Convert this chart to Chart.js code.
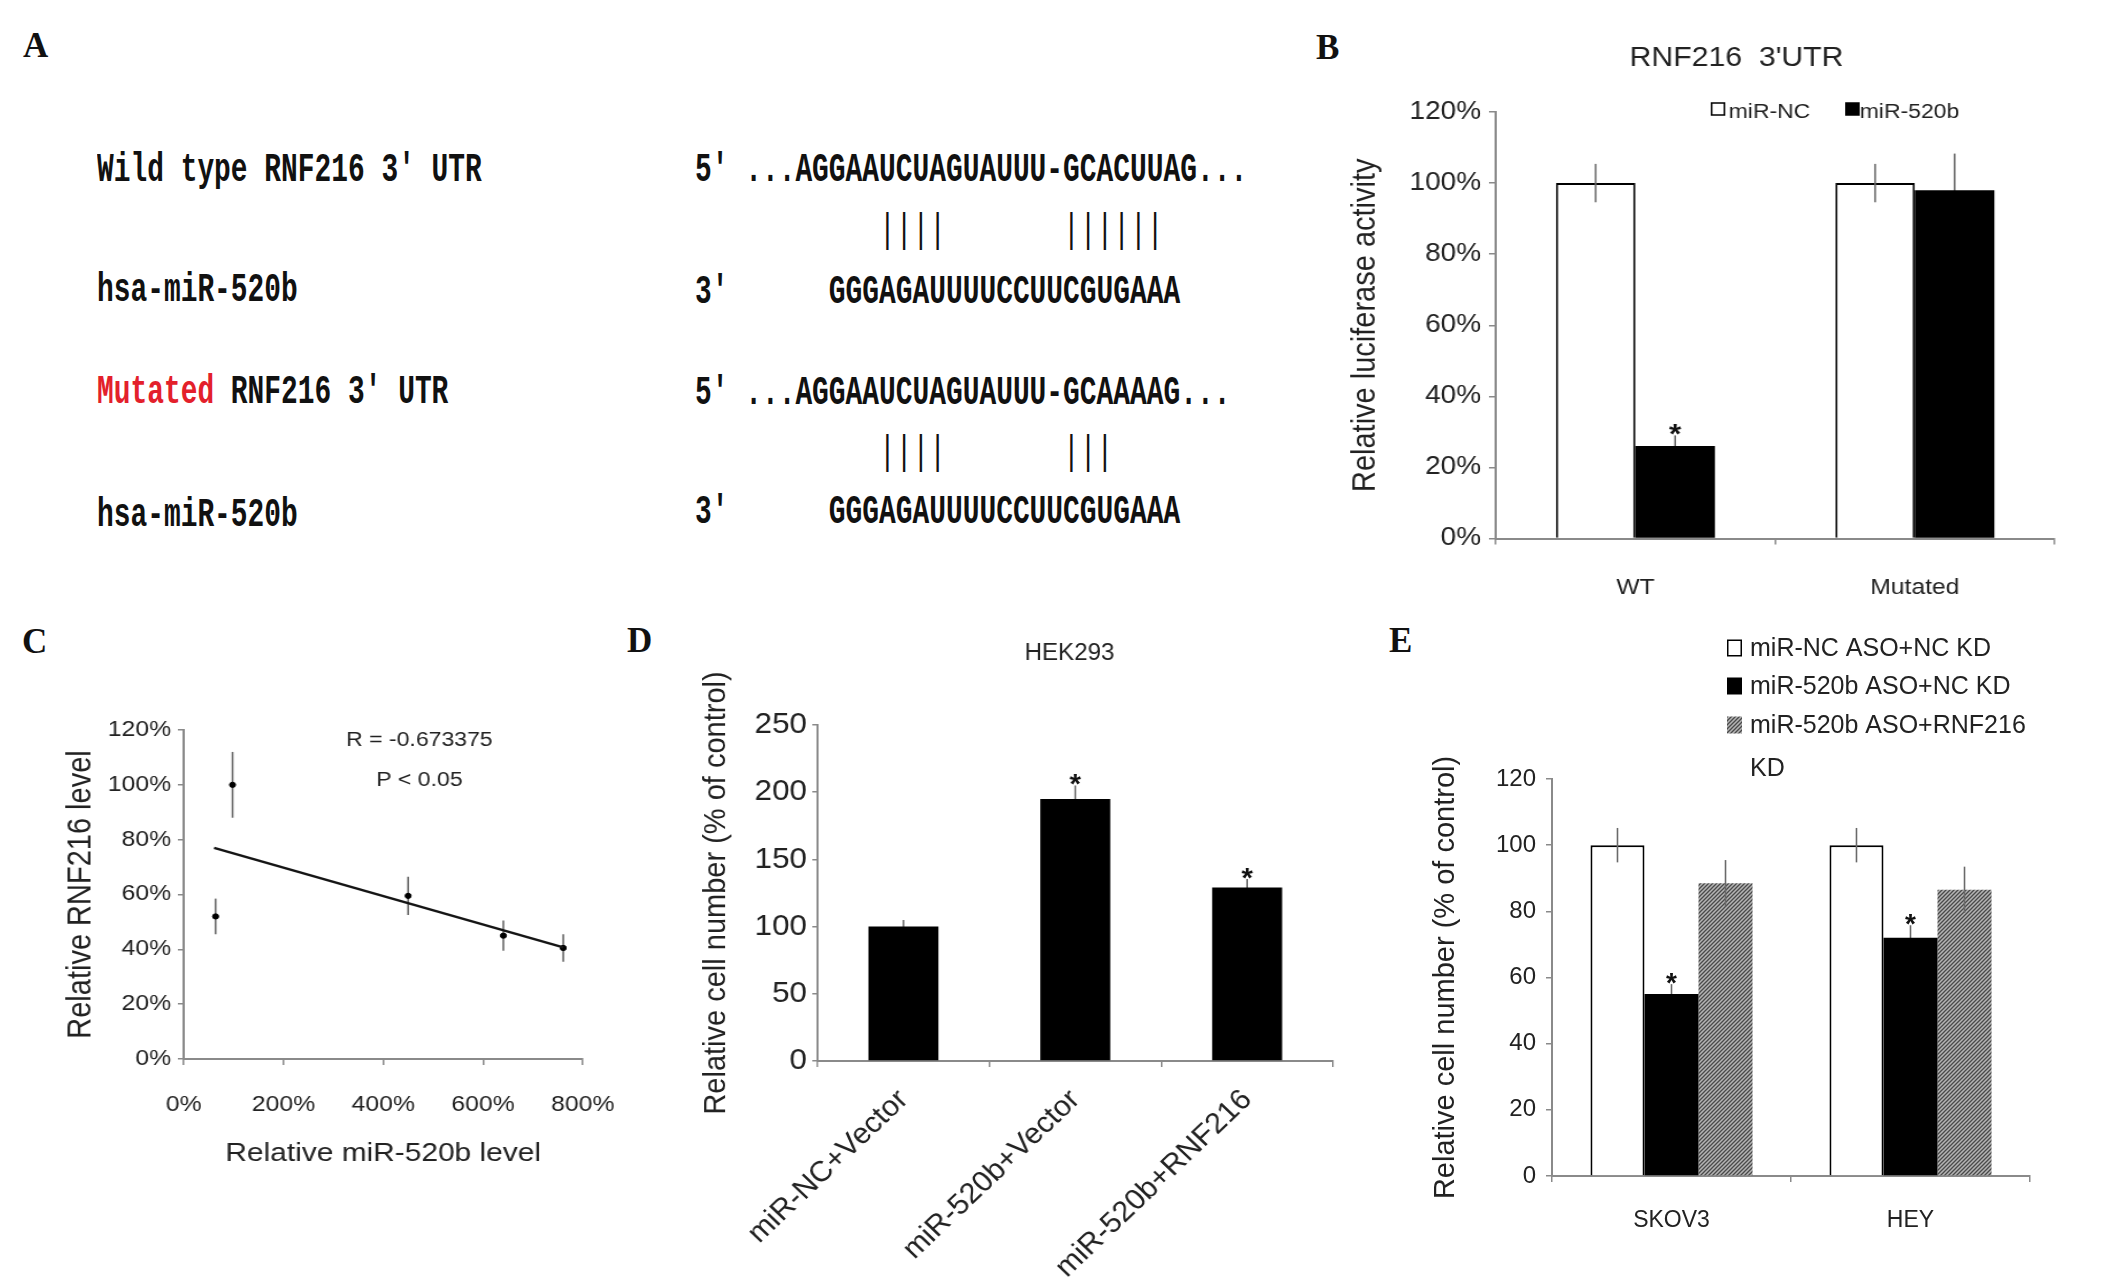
<!DOCTYPE html>
<html>
<head>
<meta charset="utf-8">
<script src="https://cdn.jsdelivr.net/npm/chart.js@4.4.1/dist/chart.umd.min.js"></script>
<style>
  html, body { margin: 0; padding: 0; background: #fff; }
  body { width: 2126px; height: 1281px; position: relative; overflow: hidden; font-family: "Liberation Sans", Arial, sans-serif; }
  .lbl { position: absolute; font: bold 35px "Liberation Serif", "Times New Roman", serif; line-height: 35px; color: #111; }
  .seq { position: absolute; font: bold 41px "Liberation Mono", "Courier New", monospace; line-height: 41px; white-space: pre; transform-origin: 0 0; transform: scaleX(0.68); color: #111; }
  .seq.thin { font-weight: normal; }
  .red { color: #e3202b; }
  .pane { position: absolute; transform-origin: 0 0; }
</style>
</head>
<body>

<!-- panel letters -->
<div class="lbl" style="left:23px;top:28px">A</div>
<div class="lbl" style="left:1316px;top:30px">B</div>
<div class="lbl" style="left:22px;top:624px">C</div>
<div class="lbl" style="left:627px;top:623px">D</div>
<div class="lbl" style="left:1389px;top:623px">E</div>

<!-- panel A: sequence alignment -->
<div class="seq" style="left:97px;top:150px">Wild type RNF216 3' UTR</div>
<div class="seq" style="left:97px;top:270px">hsa-miR-520b</div>
<div class="seq" style="left:97px;top:372px"><span class="red">Mutated</span> RNF216 3' UTR</div>
<div class="seq" style="left:97px;top:495px">hsa-miR-520b</div>

<div class="seq" style="left:695px;top:150px">5' ...AGGAAUCUAGUAUUU-GCACUUAG...</div>
<div class="seq thin" style="left:695px;top:211px">           ||||       ||||||</div>
<div class="seq" style="left:695px;top:272px">3'      GGGAGAUUUUCCUUCGUGAAA</div>
<div class="seq" style="left:695px;top:373px">5' ...AGGAAUCUAGUAUUU-GCAAAAG...</div>
<div class="seq thin" style="left:695px;top:433px">           ||||       |||</div>
<div class="seq" style="left:695px;top:492px">3'      GGGAGAUUUUCCUUCGUGAAA</div>

<script>
// ---- data ----
// B: luciferase activity (%)
const bCategories = ['WT', 'Mutated'];
const bNC = [100, 100];
const bNCErr = [5.4, 5.4];
const b520 = [26, 98];
const b520Err = [3, 10.3];
const b520Stars = [true, false];

// C: correlation (% miR-520b vs % RNF216)
const cMiR = [64, 98, 450, 641, 761];
const cRNF = [52, 100, 59.5, 45, 40.5];
const cErr = [6.5, 12, 7, 5.5, 5];
const cFitX = [61, 761];
const cFitY = [77, 40.7];
const cStats = ['R = -0.673375', 'P < 0.05'];

// D: HEK293 cell number (% of control)
const dCategories = ['miR-NC+Vector', 'miR-520b+Vector', 'miR-520b+RNF216'];
const dValues = [100, 195, 129];
const dErr = [5, 10, 6.5];
const dStars = [false, true, true];

// E: SKOV3 / HEY cell number (% of control)
const eCategories = ['SKOV3', 'HEY'];
const eNC = [100, 100];
const eNCErr = [5.2, 5.2];
const e520 = [55, 72];
const e520Err = [3, 3.8];
const e520Stars = [true, true];
const eRNF = [88.5, 86.5];
const eRNFErr = [7, 7];

// ---- shared look ----
const AXIS = '#8a8a8a';
const INK = '#222';
Chart.defaults.font.family = '"Liberation Sans", Arial, Helvetica, sans-serif';
Chart.defaults.color = INK;
Chart.defaults.animation = false;
Chart.defaults.plugins.legend.display = false;
Chart.defaults.plugins.tooltip.enabled = false;

function makePane(left, top, cw, h, k) {
  const div = document.createElement('div');
  div.className = 'pane';
  div.style.left = left + 'px';
  div.style.top = top + 'px';
  div.style.width = cw + 'px';
  div.style.height = h + 'px';
  div.style.transform = 'scaleX(' + k + ')';
  const c = document.createElement('canvas');
  c.width = cw; c.height = h;
  c.style.width = cw + 'px'; c.style.height = h + 'px';
  div.appendChild(c);
  document.body.appendChild(div);
  return c;
}

function yScale(o) {
  return {
    type: 'linear', min: o.min, max: o.max,
    afterFit: s => { s.width = o.width; },
    border: { color: AXIS, width: 2 },
    grid: { drawOnChartArea: false, tickLength: o.tick, color: AXIS, tickColor: AXIS, lineWidth: 1.5 },
    ticks: { stepSize: o.step, padding: o.pad, font: { size: o.size }, color: INK,
             callback: o.pct ? v => v + '%' : v => v },
    title: { display: true, text: o.title, font: { size: o.tsize }, color: INK, padding: { top: o.tpad, bottom: 0 } }
  };
}

function xCat(o) {
  return {
    type: 'category',
    afterFit: s => { s.height = o.height; },
    border: { color: AXIS, width: 2 },
    grid: { drawOnChartArea: false, tickLength: o.tick, color: AXIS, tickColor: AXIS, lineWidth: 1.5 },
    ticks: { padding: o.pad, font: { size: o.size }, color: INK, autoSkip: false,
             maxRotation: o.rot || 0, minRotation: o.rot || 0 }
  };
}

const val = d => (d !== null && typeof d === 'object') ? d.y : d;

function drawErrors(chart, behind) {
  const ctx = chart.ctx, ys = chart.scales.y;
  chart.data.datasets.forEach((ds, i) => {
    if (!ds.errors || !!ds.errBehind !== behind) return;
    const meta = chart.getDatasetMeta(i);
    ctx.save();
    ctx.strokeStyle = '#6a6a6a';
    ctx.lineWidth = 1.6;
    meta.data.forEach((el, j) => {
      const v = val(ds.data[j]), e = ds.errors[j];
      ctx.beginPath();
      ctx.moveTo(el.x, ys.getPixelForValue(v - e));
      ctx.lineTo(el.x, ys.getPixelForValue(v + e));
      ctx.stroke();
    });
    ctx.restore();
  });
}

function drawStars(chart) {
  const ctx = chart.ctx, ys = chart.scales.y;
  chart.data.datasets.forEach((ds, i) => {
    if (!ds.stars) return;
    const meta = chart.getDatasetMeta(i);
    meta.data.forEach((el, j) => {
      if (!ds.stars[j]) return;
      const top = ys.getPixelForValue(val(ds.data[j]) + (ds.errors ? ds.errors[j] : 0));
      ctx.save();
      ctx.fillStyle = '#111';
      ctx.font = 'bold 28px "Liberation Sans", Arial, sans-serif';
      ctx.textAlign = 'center';
      ctx.textBaseline = 'alphabetic';
      ctx.fillText('*', el.x, top + 8);
      ctx.restore();
    });
  });
}

function drawLegend(chart, lg) {
  const ctx = chart.ctx;
  ctx.save();
  ctx.font = lg.size + 'px "Liberation Sans", Arial, sans-serif';
  ctx.textBaseline = 'middle';
  ctx.textAlign = 'left';
  let n = 0;
  chart.data.datasets.forEach(ds => {
    if (!ds.label) return;
    const bx = lg.xs ? lg.xs[n] : lg.x;
    const cy = lg.ys ? lg.ys[n] : lg.y;
    const tx = lg.txs ? lg.txs[n] : lg.tx;
    n++;
    ctx.fillStyle = ds.backgroundColor;
    ctx.fillRect(bx, cy - lg.bh / 2 - lg.lift, lg.bw, lg.bh);
    if (ds.borderWidth) {
      ctx.strokeStyle = ds.borderColor;
      ctx.lineWidth = 1.5;
      ctx.strokeRect(bx + 0.75, cy - lg.bh / 2 - lg.lift + 0.75, lg.bw - 1.5, lg.bh - 1.5);
    }
    ctx.fillStyle = INK;
    const text = ds.label;
    if (lg.maxWidth && ctx.measureText(text).width > lg.maxWidth) {
      const cut = text.lastIndexOf(' ');
      ctx.fillText(text.slice(0, cut), tx, cy);
      ctx.fillText(text.slice(cut + 1), tx, cy + lg.wrapGap);
    } else {
      ctx.fillText(text, tx, cy);
    }
  });
  ctx.restore();
}

function drawNotes(chart, notes) {
  const ctx = chart.ctx;
  notes.forEach(nt => {
    ctx.save();
    ctx.font = nt.size + 'px "Liberation Sans", Arial, sans-serif';
    ctx.fillStyle = INK;
    ctx.textAlign = 'center';
    ctx.textBaseline = 'middle';
    ctx.fillText(nt.text, nt.x, nt.y);
    ctx.restore();
  });
}

const decor = {
  id: 'decor',
  beforeDatasetsDraw(chart) { drawErrors(chart, true); },
  afterDatasetsDraw(chart) { drawErrors(chart, false); drawStars(chart); },
  afterDraw(chart, args, opts) {
    if (opts.notes) drawNotes(chart, opts.notes);
    if (opts.legend) drawLegend(chart, opts.legend);
  }
};
Chart.register(decor);

// ---- panel B ----
(function () {
  const cv = makePane(1340, 30, 679, 590, 1.12);
  new Chart(cv, {
    type: 'bar',
    data: {
      labels: bCategories,
      datasets: [
        { label: 'miR-NC', data: bNC, errors: bNCErr, errBehind: false,
          backgroundColor: '#ffffff', borderColor: '#000', borderWidth: 2 },
        { label: 'miR-520b', data: b520, errors: b520Err, errBehind: true, stars: b520Stars,
          backgroundColor: '#000000', borderColor: '#000', borderWidth: 0 }
      ]
    },
    options: {
      responsive: false,
      layout: { padding: { left: 0, right: 41, top: 82, bottom: 0 } },
      datasets: { bar: { categoryPercentage: 0.569, barPercentage: 1 } },
      scales: {
        x: xCat({ height: 81.5, tick: 6, pad: 30, size: 22 }),
        y: yScale({ min: 0, max: 120, step: 20, pct: true, width: 139, tick: 6, pad: 7, size: 25,
                    title: 'Relative luciferase activity', tsize: 29, tpad: 6 })
      },
      plugins: {
        decor: {
          notes: [{ text: "RNF216  3'UTR", x: 354, y: 29, size: 27 }],
          legend: { xs: [331, 451], txs: [347, 464], y: 82, lift: 3, bw: 13, bh: 13.5, size: 20.5 }
        }
      }
    }
  });
})();

// ---- panel C ----
(function () {
  const cv = makePane(10, 680, 557, 520, 1.15);
  const pts = cMiR.map((x, i) => ({ x: x, y: cRNF[i] }));
  const fit = cFitX.map((x, i) => ({ x: x, y: cFitY[i] }));
  new Chart(cv, {
    type: 'scatter',
    data: {
      datasets: [
        { label: '', data: fit, showLine: true, pointRadius: 0, borderColor: '#151515', borderWidth: 2.5 },
        { label: '', data: pts, errors: cErr, errBehind: true, pointRadius: 2.6,
          pointBackgroundColor: '#000', pointBorderColor: '#000', borderColor: '#000' }
      ]
    },
    options: {
      responsive: false,
      layout: { padding: { left: 0, right: 59, top: 50, bottom: 0 } },
      scales: {
        x: {
          type: 'linear', min: 0, max: 800,
          afterFit: s => { s.height = 141; },
          border: { color: AXIS, width: 2 },
          grid: { drawOnChartArea: false, tickLength: 6, color: AXIS, tickColor: AXIS, lineWidth: 1.5 },
          ticks: { stepSize: 200, padding: 27, font: { size: 21.5 }, color: INK, callback: v => v + '%' },
          title: { display: true, text: 'Relative miR-520b level', font: { size: 26 }, color: INK,
                   padding: { top: 0, bottom: 31 } }
        },
        y: yScale({ min: 0, max: 120, step: 20, pct: true, width: 151, tick: 5, pad: 6, size: 21.5,
                    title: 'Relative RNF216 level', tsize: 29, tpad: 45 })
      },
      plugins: {
        decor: {
          notes: [
            { text: cStats[0], x: 356, y: 60, size: 20 },
            { text: cStats[1], x: 356, y: 100, size: 20 }
          ]
        }
      }
    }
  });
})();

// ---- panel D ----
(function () {
  const cv = makePane(660, 620, 667, 661, 1.05);
  new Chart(cv, {
    type: 'bar',
    data: {
      labels: dCategories,
      datasets: [
        { label: '', data: dValues, errors: dErr, errBehind: true, stars: dStars,
          backgroundColor: '#000', borderWidth: 0 }
      ]
    },
    options: {
      responsive: false,
      layout: { padding: { left: 0, right: 26, top: 105, bottom: 0 } },
      datasets: { bar: { categoryPercentage: 0.407, barPercentage: 1 } },
      scales: {
        x: xCat({ height: 220, tick: 6, pad: 16, size: 29, rot: 45 }),
        y: yScale({ min: 0, max: 250, step: 50, pct: false, width: 150, tick: 5, pad: 5, size: 30,
                    title: 'Relative cell number (% of control)', tsize: 29, tpad: 37 })
      },
      plugins: {
        decor: { notes: [{ text: 'HEK293', x: 390, y: 34, size: 23 }] }
      }
    }
  });
})();

// ---- panel E ----
(function () {
  const cv = makePane(1380, 620, 746, 661, 1.0);
  const tile = document.createElement('canvas');
  tile.width = 4; tile.height = 4;
  const g = tile.getContext('2d');
  g.fillStyle = '#b4b4b4';
  g.fillRect(0, 0, 4, 4);
  g.strokeStyle = '#4a4a4a';
  g.lineWidth = 1.3;
  g.beginPath();
  g.moveTo(0, 4); g.lineTo(4, 0);
  g.moveTo(-2, 2); g.lineTo(2, -2);
  g.moveTo(2, 6); g.lineTo(6, 2);
  g.stroke();
  const hatch = cv.getContext('2d').createPattern(tile, 'repeat');

  new Chart(cv, {
    type: 'bar',
    data: {
      labels: eCategories,
      datasets: [
        { label: 'miR-NC ASO+NC KD', data: eNC, errors: eNCErr, errBehind: false,
          backgroundColor: '#ffffff', borderColor: '#000', borderWidth: 2 },
        { label: 'miR-520b ASO+NC KD', data: e520, errors: e520Err, errBehind: true, stars: e520Stars,
          backgroundColor: '#000000', borderWidth: 0 },
        { label: 'miR-520b ASO+RNF216 KD', data: eRNF, errors: eRNFErr, errBehind: false,
          backgroundColor: hatch, borderWidth: 0 }
      ]
    },
    options: {
      responsive: false,
      layout: { padding: { left: 0, right: 96, top: 159, bottom: 0 } },
      datasets: { bar: { categoryPercentage: 0.678, barPercentage: 1 } },
      scales: {
        x: xCat({ height: 105, tick: 6, pad: 25, size: 23 }),
        y: yScale({ min: 0, max: 120, step: 20, pct: false, width: 172, tick: 6, pad: 10, size: 24,
                    title: 'Relative cell number (% of control)', tsize: 29, tpad: 49 })
      },
      plugins: {
        decor: {
          legend: { x: 347, tx: 370, ys: [29, 67, 106], lift: 1, bw: 15, bh: 17, size: 25,
                    maxWidth: 300, wrapGap: 43 }
        }
      }
    }
  });
})();
</script>
</body>
</html>
